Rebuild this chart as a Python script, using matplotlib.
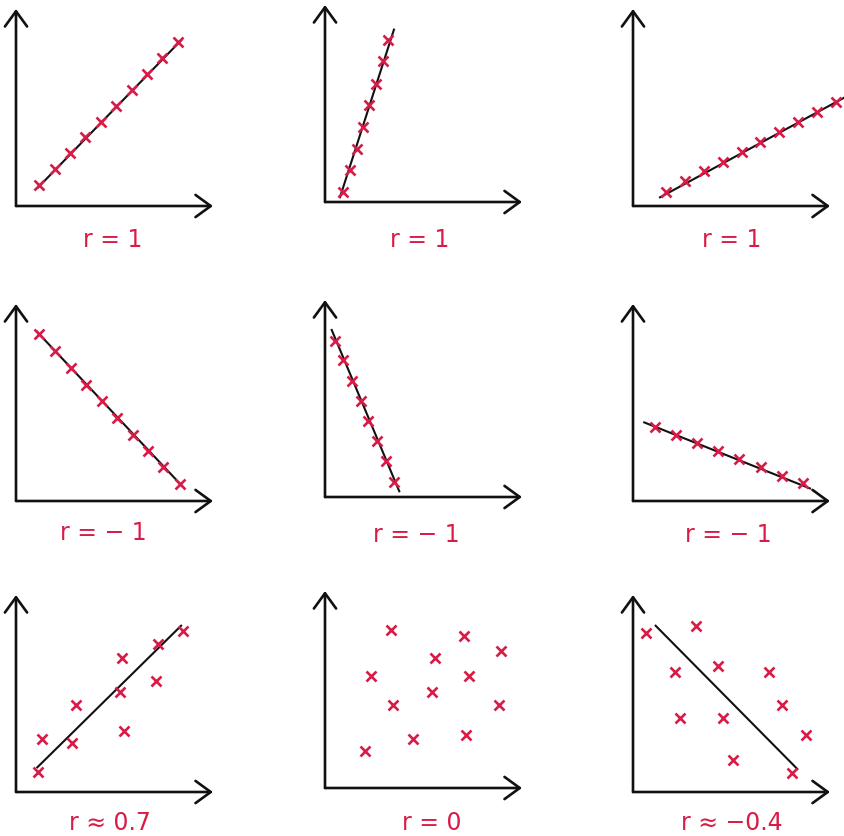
import matplotlib.pyplot as plt

# point positions, each panel on a 0-10 grid
# (origin at the corner of the axes, 10 = tip of the arrow)
pos_x = [1.18, 1.98, 2.74, 3.52, 4.30, 5.08, 5.87, 6.63, 7.43, 8.24]
pos_y = [1.08, 1.88, 2.69, 3.49, 4.28, 5.09, 5.90, 6.70, 7.50, 8.31]
pos_line_x = [1.13, 8.41]
pos_line_y = [0.95, 8.44]

steep_x = [0.90, 1.27, 1.61, 1.91, 2.25, 2.59, 2.93, 3.21]
steep_y = [0.52, 1.62, 2.69, 3.82, 4.92, 5.99, 7.17, 8.24]
steep_line_x = [0.76, 3.50]
steep_line_y = [0.24, 8.75]

shallow_x = [1.68, 2.64, 3.60, 4.55, 5.52, 6.45, 7.41, 8.36, 9.32, 10.29]
shallow_y = [0.73, 1.28, 1.76, 2.25, 2.72, 3.23, 3.74, 4.25, 4.76, 5.26]
shallow_line_x = [1.37, 10.76]
shallow_line_y = [0.44, 5.52]

neg_x = [1.18, 1.98, 2.78, 3.55, 4.35, 5.11, 5.92, 6.72, 7.48, 8.32]
neg_y = [8.48, 7.63, 6.75, 5.90, 5.06, 4.21, 3.37, 2.55, 1.71, 0.86]
neg_line_x = [1.05, 8.46]
neg_line_y = [8.61, 0.73]

neg_steep_x = [0.51, 0.93, 1.35, 1.81, 2.20, 2.62, 3.08, 3.50]
neg_steep_y = [7.93, 6.95, 5.90, 4.85, 3.87, 2.86, 1.84, 0.75]
neg_steep_line_x = [0.34, 3.77]
neg_steep_line_y = [8.48, 0.29]

neg_shallow_x = [1.12, 2.18, 3.23, 4.30, 5.40, 6.48, 7.55, 8.65]
neg_shallow_y = [3.74, 3.37, 2.93, 2.55, 2.13, 1.74, 1.28, 0.90]
neg_shallow_line_x = [0.57, 8.98]
neg_shallow_line_y = [3.99, 0.64]

r07_x = [1.10, 1.30, 2.83, 3.05, 5.28, 5.36, 5.48, 7.11, 7.19, 8.49]
r07_y = [1.03, 2.69, 2.49, 4.42, 5.09, 6.79, 3.11, 5.65, 7.51, 8.19]
r07_line_x = [1.08, 8.38]
r07_line_y = [1.25, 8.44]

r0_x = [3.35, 7.06, 8.93, 5.58, 2.34, 7.33, 5.45, 3.47, 8.83, 4.45, 7.16, 2.03]
r0_y = [8.02, 7.70, 6.97, 6.58, 5.70, 5.70, 4.89, 4.21, 4.21, 2.49, 2.71, 1.90]

rneg04_x = [0.64, 3.18, 2.13, 4.30, 6.90, 7.58, 2.39, 4.58, 8.77, 5.09, 8.09]
rneg04_y = [8.07, 8.41, 6.11, 6.41, 6.11, 4.42, 3.74, 3.74, 2.89, 1.62, 0.95]
rneg04_line_x = [1.15, 8.34]
rneg04_line_y = [8.44, 1.17]

labels = ["r = 1", "r = 1", "r = 1",
          "r = \u2212 1", "r = \u2212 1", "r = \u2212 1",
          "r \u2248 0.7", "r = 0", "r \u2248 \u22120.4"]

panels = [
    (pos_x, pos_y, pos_line_x, pos_line_y),
    (steep_x, steep_y, steep_line_x, steep_line_y),
    (shallow_x, shallow_y, shallow_line_x, shallow_line_y),
    (neg_x, neg_y, neg_line_x, neg_line_y),
    (neg_steep_x, neg_steep_y, neg_steep_line_x, neg_steep_line_y),
    (neg_shallow_x, neg_shallow_y, neg_shallow_line_x, neg_shallow_line_y),
    (r07_x, r07_y, r07_line_x, r07_line_y),
    (r0_x, r0_y, None, None),
    (rneg04_x, rneg04_y, rneg04_line_x, rneg04_line_y),
]

# layout: pixel origin of each little axes and where its label sits
W, H = 845, 837
origins = [(16, 207), (325, 203), (633, 207),
           (16, 502), (325, 498), (633, 502),
           (16, 793), (325, 789), (633, 793)]
label_pos = [(4.92, -1.68), (4.82, -1.88), (5.01, -1.68),
             (4.43, -1.59), (4.65, -1.88), (4.84, -1.68),
             (4.77, -1.54), (5.41, -1.71), (5.01, -1.50)]
size = 197
red = "#d81b47"

fig = plt.figure(figsize=(W / 100, H / 100), dpi=100)

for (px, py), (x, y, lx, ly), text, (tx, ty) in zip(origins, panels, labels, label_pos):
    ax = fig.add_axes([px / W, (H - py) / H, size / W, size / H])
    ax.set_xlim(0, 10)
    ax.set_ylim(0, 10)
    ax.axis("off")

    # hand-drawn style axes with open arrowheads
    arrow = dict(arrowstyle="->, head_length=0.55, head_width=0.4", lw=1.9,
                 color="#111111", shrinkA=0, shrinkB=0, mutation_scale=20)
    ax.annotate("", xy=(1, 0), xytext=(0, 0), xycoords="axes fraction",
                arrowprops=arrow, annotation_clip=False)
    ax.annotate("", xy=(0, 1), xytext=(0, 0), xycoords="axes fraction",
                arrowprops=arrow, annotation_clip=False)

    if lx is not None:
        ax.plot(lx, ly, color="#111111", lw=1.5, clip_on=False, zorder=2)
    ax.plot(x, y, "x", color=red, ms=6.5, mew=1.9, clip_on=False, zorder=3)

    ax.text(tx, ty, text, color=red, fontsize=17, ha="center", va="center",
            clip_on=False)

plt.savefig("out.png", dpi=100)
